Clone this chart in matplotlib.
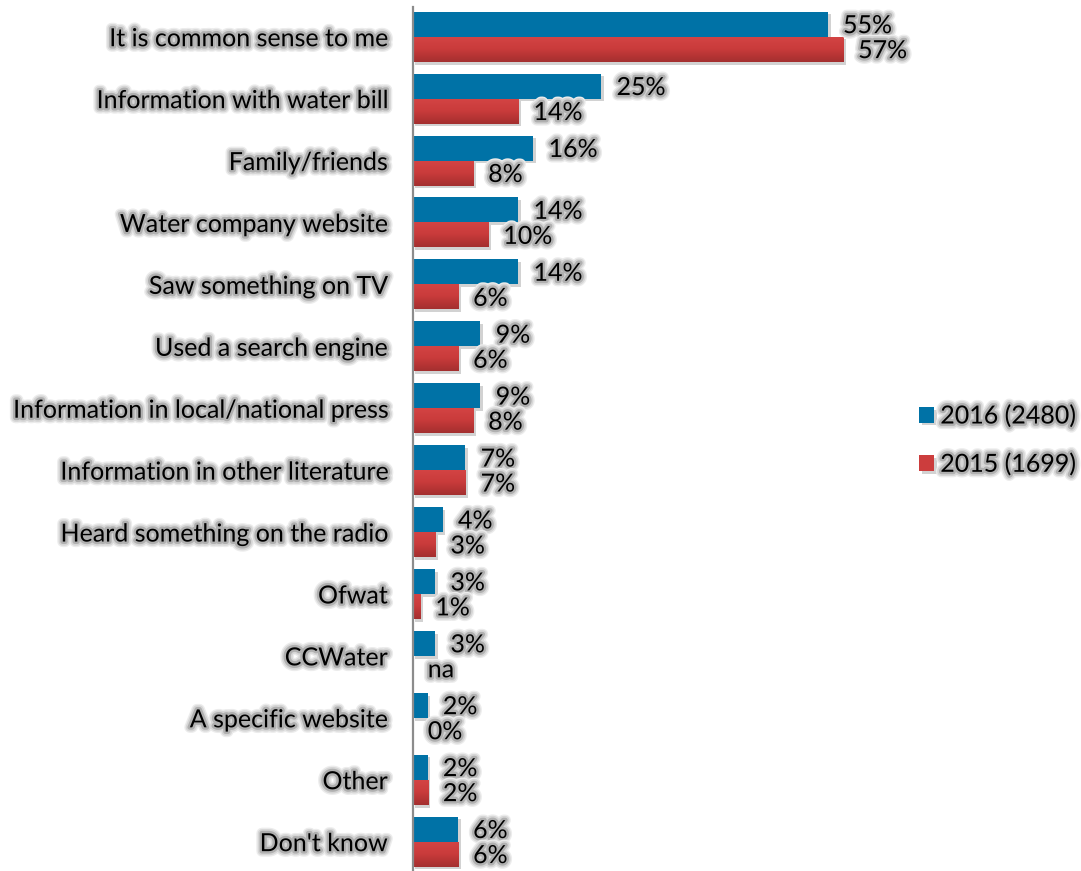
import numpy as np
import matplotlib
matplotlib.use("Agg")
import matplotlib.pyplot as plt
import matplotlib.patheffects as pe
from matplotlib.colors import LinearSegmentedColormap

categories = ["It is common sense to me", "Information with water bill", "Family/friends",
              "Water company website", "Saw something on TV", "Used a search engine",
              "Information in local/national press", "Information in other literature",
              "Heard something on the radio", "Ofwat", "CCWater", "A specific website",
              "Other", "Don't know"]
pct_2016 = [55, 25, 16, 14, 14, 9, 9, 7, 4, 3, 3, 2, 2, 6]
pct_2015 = [57, 14, 8, 10, 6, 6, 8, 7, 3, 1, None, 0, 2, 6]
series_names = ["2016 (2480)", "2015 (1699)"]

blue = "#0072a6"
red = "#cc3d3d"
red_grad = LinearSegmentedColormap.from_list("redgrad", ["#d44444", "#c93b3b", "#a42f2f"])

plt.rcParams['font.family'] = ['Lato', 'DejaVu Sans']
# soft grey glow behind the text
glow = [pe.Stroke(linewidth=8, foreground="#ececec"),
        pe.Stroke(linewidth=6, foreground="#d6d6d6"),
        pe.Stroke(linewidth=3.5, foreground="#b0b0b0"),
        pe.Normal()]
shadow = [pe.SimplePatchShadow(offset=(2, -2), shadow_rgbFace="#808080", alpha=0.35), pe.Normal()]

fig = plt.figure(figsize=(10.81, 8.71), dpi=100)
ax = fig.add_axes([412.5 / 1081, 0, 668.5 / 1081, 864 / 871])

y = np.arange(len(categories))
h = 0.404
v15 = [v if v is not None else 0 for v in pct_2015]

b16 = ax.barh(y - h / 2, pct_2016, height=h, color=blue, label=series_names[0], zorder=3)
b15 = ax.barh(y + h / 2, v15, height=h, color=red, label=series_names[1], zorder=3)
for p in list(b16) + list(b15):
    p.set_path_effects(shadow)

# vertical gradient on the 2015 bars
grad = np.linspace(0, 1, 64).reshape(-1, 1)
for p in b15:
    x0, y0 = p.get_x(), p.get_y()
    w, hh = p.get_width(), p.get_height()
    if w <= 0:
        continue
    im = ax.imshow(grad, extent=[x0, x0 + w, y0 + hh, y0], aspect='auto',
                   cmap=red_grad, zorder=4, interpolation='bilinear')
    im.set_clip_path(p)

for yi, v in zip(y, pct_2016):
    ax.annotate(f"{v}%", (v, yi - h / 2), xytext=(11, -1), textcoords="offset points",
                ha="left", va="center", fontsize=18, path_effects=glow, zorder=5)
for yi, v in zip(y, pct_2015):
    txt = "na" if v is None else f"{v}%"
    ax.annotate(txt, (0 if v is None else v, yi + h / 2), xytext=(11, -1),
                textcoords="offset points", ha="left", va="center", fontsize=18,
                path_effects=glow, zorder=5)

ax.set_xlim(0, 668.5 / 7.55)
ax.set_ylim(13.474, -0.48)
ax.set_yticks(y)
ax.set_yticklabels(categories, fontsize=18)
for lab in ax.get_yticklabels():
    lab.set_path_effects(glow)
ax.tick_params(axis='y', length=0, pad=18)
ax.set_xticks([])
for s in ["top", "right", "bottom"]:
    ax.spines[s].set_visible(False)
ax.spines["left"].set_color("#8c8c8c")
ax.spines["left"].set_linewidth(1.6)
ax.spines["left"].set_zorder(6)

leg = fig.legend(handles=[b16, b15], loc="center left", bbox_to_anchor=(919 / 1081, 1 - 440 / 871),
                 frameon=False, fontsize=18, handlelength=0.6, handleheight=0.6,
                 handletextpad=0.25, labelspacing=1.0, borderpad=0, borderaxespad=0)
for t in leg.get_texts():
    t.set_path_effects(glow)

fig.savefig("out.png", dpi=100)
